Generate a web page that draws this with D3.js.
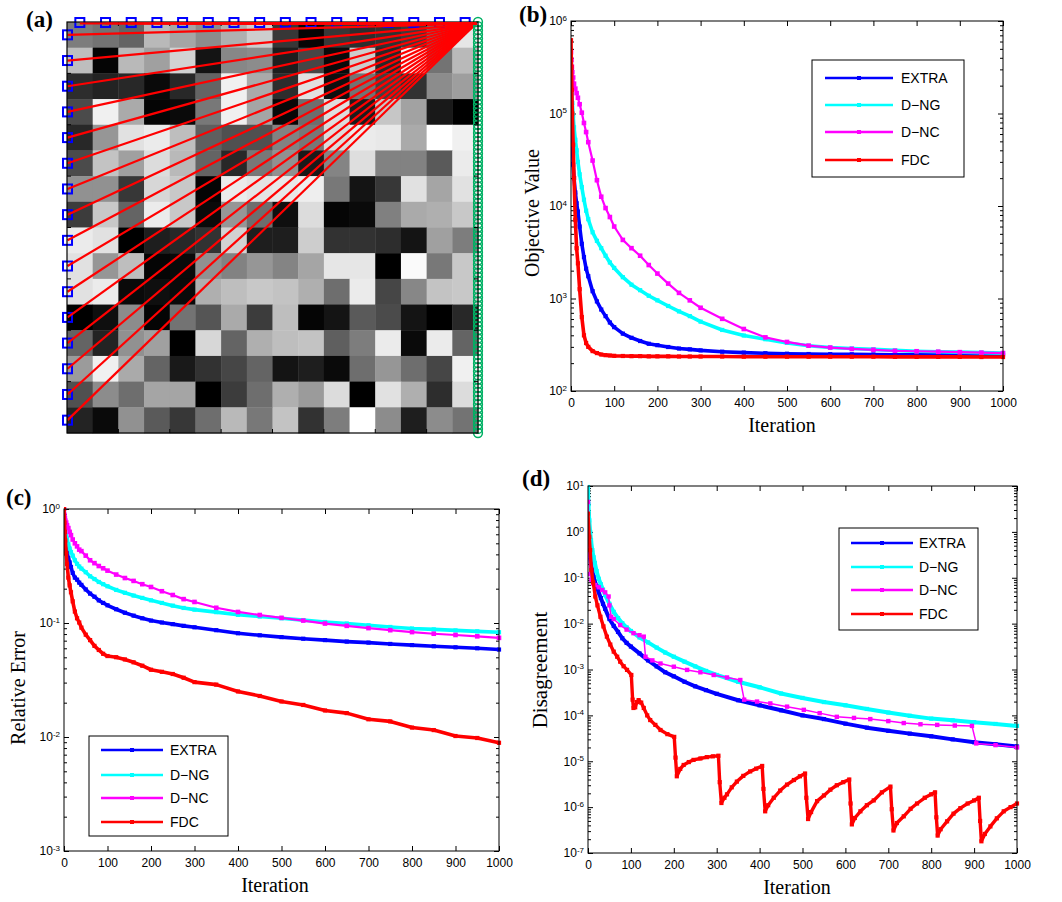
<!DOCTYPE html>
<html>
<head>
<meta charset="utf-8">
<script src="https://cdn.jsdelivr.net/npm/d3@7/dist/d3.min.js"></script>
<style>
  body { margin: 0; background: #fff; }
  svg { display: block; }
</style>
</head>
<body>
<div id="fig"></div>
<script>
// ---- data ----
var seriesNames = ['EXTRA', 'D\u2212NG', 'D\u2212NC', 'FDC'];
var seriesColors = ['#0000ff', '#00ffff', '#ff00ff', '#ff0000'];

// (a) 16x16 gray image (0 = black, 255 = white)
var gridGray = [
  [125,115,100,185,165,140,175,205, 55,  5, 55, 45, 50, 60,110,230],
  [190,  5,185,160,210, 20,135,140, 30, 70, 10,205, 40,245,115,185],
  [ 45, 35, 40, 10, 40,100,240,170, 45,225, 15,115, 65, 50,140,158],
  [ 75,240,170,  5, 10,120,240,165,  8,110,222, 28,198,162, 25,  0],
  [ 40,150,225,235,190, 95, 80, 80,130,120,220,235,232,170,255,240],
  [ 75,195,160,220,185,100, 40,120,145, 25,132,222,130,130, 90,235],
  [145,145, 55,215,200,  5,235,228,232,238,120, 20, 55,225,165,225],
  [ 60,200,100,235,200, 10,150,110, 15,220,  5, 10,128,170,175,200],
  [235,225,  0, 30, 40, 50,210, 30, 30,205, 50, 50, 45, 20,160,125],
  [225,150,190,  5, 10,145,130,150,132,165,230,230,  0,250,120,200],
  [225,235, 10, 15, 10,175,190,200,195,175,110,235, 70,135,195,200],
  [  0, 15,140,  5,115, 85,170, 60,190,  5, 20, 90, 75, 20,  0, 40],
  [100, 35,145,160,  0,215,100,175,190,195, 95,125,235, 10,235,100],
  [155,240,170,100, 25, 50, 70,100, 20, 30, 10,110,150,110, 70,240],
  [ 80,140,110,165,165,  0, 60,110,175,155,220,  0,225,175, 45,220],
  [ 35, 10,145, 90, 55,110,185,120,195, 50,125,255,140, 30,140,115]
];
var apexCell = [15.93, 0.06];   // col,row where all red links meet

// iterations shared by the smooth curves
var iters = [0,1,2,3,5,7,10,13,16,20,25,30,35,40,50,60,70,80,90,100,
             120,140,160,180,200,225,250,275,300,350,400,450,500,550,
             600,650,700,750,800,850,900,950,1000];

// (b) objective value
var objExtra = [2.45e5,1.26e5,7.9e4,5.0e4,2.8e4,2.0e4,1.4e4,1.07e4,8.7e3,6.0e3,3.9e3,2.8e3,2.1e3,1.74e3,1.2e3,930,760,645,550,490,
                417,376,347,324,313,299,288,282,275,266,260,256,253,251,
                250,249,248,247,246,246,245,245,245];
var objDng = [3.5e5,2.2e5,1.66e5,1.3e5,9.5e4,7.1e4,5.2e4,4.0e4,3.0e4,2.2e4,1.6e4,1.17e4,8.9e3,7.2e3,5.2e3,4.2e3,3.5e3,2.9e3,2.45e3,2.14e3,
              1.7e3,1.41e3,1.23e3,1.07e3,955,830,725,645,562,457,398,363,331,309,
              295,288,282,275,269,266,263,260,257];
var objDnc = [4.6e5,3.8e5,3.2e5,2.8e5,2.45e5,2.1e5,1.86e5,1.66e5,1.48e5,1.26e5,1.02e5,7.9e4,6.3e4,4.9e4,3.1e4,1.9e4,1.26e4,9.5e3,7.6e3,6.0e3,
              4.3e3,3.5e3,2.9e3,2.3e3,1.86e3,1.45e3,1.15e3,955,794,603,468,380,339,309,
              295,285,279,272,269,266,263,260,257];
var objFdc = [6.2e5,3.2e5,1.8e5,1.0e5,4.6e4,2.0e4,7.1e3,3.5e3,2.4e3,1.26e3,630,400,330,300,270,257,248,244,242,240,
              239,238,238,237,237,237,236,236,236,236,235,235,235,235,
              235,235,235,234,234,234,234,233,233];

// (c) relative error
var errExtra = [0.79,0.63,0.55,0.50,0.45,0.42,0.37,0.34,0.31,0.275,0.25,0.24,0.226,0.216,0.197,0.181,0.17,0.158,0.15,0.143,
                0.132,0.123,0.116,0.110,0.105,0.101,0.0977,0.0944,0.0917,0.0865,0.0813,0.078,0.0752,0.0728,
                0.0708,0.0687,0.0673,0.0655,0.064,0.0625,0.0612,0.060,0.0585];
var errDng = [0.93,0.79,0.71,0.65,0.59,0.55,0.49,0.45,0.42,0.39,0.355,0.33,0.313,0.30,0.279,0.257,0.243,0.229,0.219,0.21,
              0.195,0.184,0.174,0.166,0.158,0.15,0.142,0.1355,0.131,0.1245,0.118,0.114,0.110,0.106,
              0.102,0.0989,0.0955,0.0923,0.0895,0.0879,0.0861,0.0845,0.083];
var errDnc = [1.0,0.89,0.83,0.79,0.76,0.72,0.68,0.63,0.59,0.54,0.50,0.47,0.44,0.427,0.39,0.355,0.335,0.316,0.302,0.288,
              0.266,0.248,0.234,0.219,0.207,0.19,0.176,0.162,0.153,0.136,0.125,0.1175,0.111,0.105,
              0.0989,0.0944,0.0902,0.0865,0.0832,0.0805,0.0785,0.0764,0.0741];
var errFdc = [1.0,0.76,0.63,0.53,0.41,0.33,0.25,0.214,0.186,0.155,0.126,0.11,0.101,0.091,0.079,0.0708,0.063,0.058,0.0537,0.0513,
              0.0501,0.0479,0.0452,0.0422,0.0389,0.0373,0.0357,0.0331,0.0303,0.0288,0.0251,0.0229,0.0205,0.0191,
              0.0171,0.0162,0.0143,0.0137,0.0121,0.0115,0.0102,0.0098,0.0089];

// (d) disagreement
var disExtra = [2.2,1.26,0.79,0.5,0.28,0.2,0.141,0.105,0.083,0.066,0.048,0.036,0.027,0.021,0.0126,0.0089,0.0066,0.0048,0.0038,0.00316,
                0.00224,0.00158,0.00117,8.7e-4,7.1e-4,5.4e-4,4.3e-4,3.55e-4,2.95e-4,2.14e-4,1.66e-4,1.29e-4,1.0e-4,8.3e-5,
                6.6e-5,5.4e-5,4.6e-5,4.0e-5,3.5e-5,3.0e-5,2.6e-5,2.35e-5,2.1e-5];
var disDng = [9.5,4.0,2.5,1.78,1.0,0.66,0.4,0.28,0.21,0.14,0.095,0.072,0.055,0.042,0.027,0.018,0.0132,0.0102,0.0083,0.0069,
              0.005,0.0039,0.003,0.00234,0.0019,0.00148,0.00117,9.3e-4,7.6e-4,5.4e-4,4.1e-4,3.0e-4,2.4e-4,1.95e-4,
              1.66e-4,1.38e-4,1.15e-4,9.8e-5,8.5e-5,7.8e-5,7.1e-5,6.5e-5,5.9e-5];
var disDncIter = [0,2,5,8,12,17,25,33,40,48,50,54,60,75,90,106,120,130,134,150,169,200,231,262,293,324,355,
                  364,394,425,464,503,540,580,620,658,700,736,775,814,855,895,905,950,1000];
var disDnc = [4.5,0.3,0.12,0.09,0.075,0.069,0.062,0.054,0.048,0.039,0.025,0.0141,0.0126,0.0093,0.0074,0.0062,0.0056,0.0052,
              0.0019,0.00158,0.00135,0.00115,9.8e-4,8.7e-4,7.6e-4,6.7e-4,5.9e-4,
              2.2e-4,2.0e-4,1.82e-4,1.55e-4,1.32e-4,1.12e-4,9.3e-5,8.8e-5,8.3e-5,7.5e-5,6.8e-5,6.4e-5,6.2e-5,6.0e-5,5.9e-5,
              2.45e-5,2.25e-5,2.0e-5];
var disFdcIter = [0,3,5,8,12,17,22,29,36,44,52,60,68,75,83,91,101,104,106,110,114,118,124,130,138,145,157,169,185,201,
                  204,207,215,223,235,246,262,277,291,304,
                  307,311,318,324,335,347,362,378,392,406,
                  409,413,420,433,448,464,480,494,506,
                  509,513,520,534,550,565,580,595,609,
                  612,615,622,635,650,666,685,705,
                  708,712,720,736,752,767,785,800,809,
                  812,815,822,837,852,868,885,900,911,
                  914,917,925,938,953,969,985,1000];
var disFdc = [2.5,0.78,0.4,0.148,0.08,0.039,0.025,0.0141,0.0087,0.0052,0.0035,0.00245,0.0019,0.00148,0.00118,9.8e-4,7.6e-4,
              2.2e-4,1.45e-4,1.5e-4,1.95e-4,2.15e-4,1.9e-4,1.45e-4,1.0e-4,7.9e-5,6.2e-5,4.8e-5,3.9e-5,3.4e-5,
              1.2e-5,4.7e-6,6.8e-6,8.3e-6,9.6e-6,1.07e-5,1.15e-5,1.23e-5,1.28e-5,1.32e-5,
              3.5e-6,1.23e-6,1.6e-6,1.9e-6,2.7e-6,3.6e-6,4.8e-6,6.0e-6,6.9e-6,7.9e-6,
              2.5e-6,8.1e-7,1.1e-6,1.6e-6,2.3e-6,3.1e-6,3.9e-6,4.7e-6,5.4e-6,
              1.6e-6,5.5e-7,7.8e-7,1.35e-6,1.8e-6,2.4e-6,3.0e-6,3.5e-6,4.0e-6,
              1.2e-6,4.2e-7,5.8e-7,8.1e-7,1.1e-6,1.4e-6,2.1e-6,2.8e-6,
              9e-7,3.1e-7,4.5e-7,6.3e-7,9.2e-7,1.2e-6,1.6e-6,1.9e-6,2.1e-6,
              6e-7,2.4e-7,3.3e-7,4.9e-7,7.2e-7,9.5e-7,1.2e-6,1.4e-6,1.6e-6,
              5e-7,1.8e-7,2.6e-7,3.8e-7,5.7e-7,8.1e-7,1.0e-6,1.2e-6];

var xTicks = [0,100,200,300,400,500,600,700,800,900,1000];

// ---- drawing ----
var width = 1062, height = 902;
var svg = d3.select('#fig').append('svg')
  .attr('width', width).attr('height', height)
  .style('font-family', '"Liberation Sans", Arial, sans-serif');

var serif = '"Liberation Serif", "Times New Roman", serif';

function panelLabel(txt, x, y) {
  svg.append('text').attr('x', x).attr('y', y)
    .style('font-family', serif).style('font-weight', 'bold')
    .style('font-size', '23px').text(txt);
}

// (a) image with sensing links
function drawImagePanel() {
  var gx = d3.scaleLinear().domain([0, 16]).range([67, 478]);
  var gy = d3.scaleLinear().domain([0, 16]).range([22, 433]);
  var g = svg.append('g');

  var cells = [];
  gridGray.forEach(function(row, r) {
    row.forEach(function(v, c) { cells.push({r: r, c: c, v: v}); });
  });
  g.selectAll('.cell').data(cells).enter().append('rect')
    .attr('x', function(d) { return gx(d.c); })
    .attr('y', function(d) { return gy(d.r); })
    .attr('width', gx(1) - gx(0) + 0.4)
    .attr('height', gy(1) - gy(0) + 0.4)
    .style('fill', function(d) { return d3.rgb(d.v, d.v, d.v); });

  var topNodes = d3.range(16).map(function(k) { return [k + 0.5, 0.02]; });
  var leftNodes = d3.range(16).map(function(k) { return [0.02, k + 0.5]; });
  var nodes = topNodes.concat(leftNodes);

  // blue squares
  g.selectAll('.node').data(nodes).enter().append('rect')
    .attr('x', function(d) { return gx(d[0]) - 4.5; })
    .attr('y', function(d) { return gy(d[1]) - 4.5; })
    .attr('width', 9).attr('height', 9)
    .style('fill', 'none').style('stroke', '#0000ff').style('stroke-width', 2);

  // red links to the apex
  g.selectAll('.link').data(leftNodes).enter().append('line')
    .attr('x1', function(d) { return gx(d[0]); })
    .attr('y1', function(d) { return gy(d[1]); })
    .attr('x2', gx(apexCell[0])).attr('y2', gy(apexCell[1]))
    .style('stroke', '#ff0000').style('stroke-width', 2.2);

  // green receivers down the right edge
  var greenRows = d3.range(0, 16.001, 0.16);
  g.selectAll('.rx').data(greenRows).enter().append('circle')
    .attr('cx', gx(16)).attr('cy', function(d) { return gy(d); })
    .attr('r', 4.4)
    .style('fill', 'none').style('stroke', '#00b064').style('stroke-width', 1.5);

  // frame + ticks
  g.append('rect').attr('x', gx(0)).attr('y', gy(0))
    .attr('width', gx(16) - gx(0)).attr('height', gy(16) - gy(0))
    .style('fill', 'none').style('stroke', '#000').style('stroke-width', 1.2);
  var tk = [2, 4, 6, 8, 10, 12, 14];
  tk.forEach(function(t) {
    g.append('line').attr('x1', gx(0)).attr('x2', gx(0) + 4).attr('y1', gy(t)).attr('y2', gy(t)).style('stroke', '#000');
    g.append('line').attr('x1', gx(16)).attr('x2', gx(16) - 4).attr('y1', gy(t)).attr('y2', gy(t)).style('stroke', '#000');
    g.append('line').attr('y1', gy(16)).attr('y2', gy(16) - 4).attr('x1', gx(t)).attr('x2', gx(t)).style('stroke', '#000');
    g.append('line').attr('y1', gy(0)).attr('y2', gy(0) + 4).attr('x1', gx(t)).attr('x2', gx(t)).style('stroke', '#000');
  });
  // red band along the top border
  g.selectAll('.toplink').data(topNodes).enter().append('line')
    .attr('x1', function(d) { return gx(d[0]); })
    .attr('y1', function(d) { return gy(d[1]) + 1; })
    .attr('x2', gx(apexCell[0])).attr('y2', gy(apexCell[1]))
    .style('stroke', '#ff0000').style('stroke-width', 1.8);
}

function supLabels(axisG) {
  axisG.selectAll('.tick text').each(function(d) {
    var t = d3.select(this);
    var e = Math.round(Math.log10(d));
    t.text('');
    t.append('tspan').text('10');
    t.append('tspan').attr('dy', '-0.55em').style('font-size', '8px').text(e);
  });
}

function drawLogPanel(cfg) {
  var x = d3.scaleLinear().domain([0, 1000]).range([cfg.left, cfg.right]);
  var y = d3.scaleLog().domain(cfg.yDomain).range([cfg.bottom, cfg.top]);
  var g = svg.append('g');

  svg.append('clipPath').attr('id', 'clip-' + cfg.id)
    .append('rect').attr('x', cfg.left).attr('y', cfg.top - 2)
    .attr('width', cfg.right - cfg.left + 3).attr('height', cfg.bottom - cfg.top + 2);

  var decades = d3.range(Math.round(Math.log10(cfg.yDomain[0])), Math.round(Math.log10(cfg.yDomain[1])) + 1)
    .map(function(e) { return Math.pow(10, e); });
  var minors = [];
  decades.slice(0, -1).forEach(function(dv) {
    for (var m = 2; m < 10; m++) minors.push(dv * m);
  });

  function tickAxis(axis, tx, ty) {
    var a = g.append('g').attr('transform', 'translate(' + tx + ',' + ty + ')').call(axis);
    a.select('.domain').remove();
    a.selectAll('line').style('stroke', '#000');
    return a;
  }

  // x ticks bottom/top
  var xb = tickAxis(d3.axisBottom(x).tickValues(xTicks).tickSizeInner(-5).tickSizeOuter(0).tickPadding(7)
    .tickFormat(d3.format('d')), 0, cfg.bottom);
  xb.selectAll('text').style('font-size', '12px').style('fill', '#000')
    .style('font-family', '"Liberation Sans", Arial, sans-serif');
  tickAxis(d3.axisTop(x).tickValues(xTicks).tickSizeInner(-5).tickSizeOuter(0).tickFormat(''), 0, cfg.top);

  // y ticks left/right with minor log ticks
  var yl = tickAxis(d3.axisLeft(y).tickValues(decades).tickSizeInner(-5).tickSizeOuter(0).tickPadding(4), cfg.left, 0);
  yl.selectAll('text').style('font-size', '12px').style('fill', '#000')
    .style('font-family', '"Liberation Sans", Arial, sans-serif');
  supLabels(yl);
  tickAxis(d3.axisLeft(y).tickValues(minors).tickSizeInner(-3).tickSizeOuter(0).tickFormat(''), cfg.left, 0);
  tickAxis(d3.axisRight(y).tickValues(decades).tickSizeInner(-5).tickSizeOuter(0).tickFormat(''), cfg.right, 0);
  tickAxis(d3.axisRight(y).tickValues(minors).tickSizeInner(-3).tickSizeOuter(0).tickFormat(''), cfg.right, 0);

  // curves
  var line = d3.line().x(function(d) { return x(d[0]); }).y(function(d) { return y(d[1]); });
  var plot = g.append('g').attr('clip-path', 'url(#clip-' + cfg.id + ')');
  cfg.series.forEach(function(s, i) {
    var pts = s.iter.map(function(it, k) { return [it, s.vals[k]]; });
    var col = seriesColors[i];
    var ms = s.m || 4.2;
    plot.append('path').datum(pts).attr('d', line)
      .style('fill', 'none').style('stroke', col)
      .style('stroke-width', s.w || 3.6).style('stroke-linejoin', 'round');
    plot.selectAll('.m' + i).data(pts).enter().append('rect')
      .attr('x', function(d) { return x(d[0]) - ms / 2; })
      .attr('y', function(d) { return y(d[1]) - ms / 2; })
      .attr('width', ms).attr('height', ms)
      .style('fill', col);
  });

  // frame
  g.append('rect').attr('x', cfg.left).attr('y', cfg.top)
    .attr('width', cfg.right - cfg.left).attr('height', cfg.bottom - cfg.top)
    .style('fill', 'none').style('stroke', '#000').style('stroke-width', 1);

  // legend
  var L = cfg.legend;
  var lg = g.append('g');
  lg.append('rect').attr('x', L.x).attr('y', L.y).attr('width', L.w).attr('height', L.h)
    .style('fill', '#fff').style('stroke', '#000').style('stroke-width', 1);
  seriesNames.forEach(function(name, i) {
    var yy = L.rows[i];
    lg.append('line').attr('x1', L.lx0).attr('x2', L.lx1).attr('y1', yy).attr('y2', yy)
      .style('stroke', seriesColors[i]).style('stroke-width', 2.4);
    lg.append('rect').attr('x', (L.lx0 + L.lx1) / 2 - 2).attr('y', yy - 2)
      .attr('width', 4).attr('height', 4).style('fill', seriesColors[i]);
    lg.append('text').attr('x', L.tx).attr('y', yy).attr('dy', '0.36em')
      .style('font-size', '14px').text(name);
  });

  // axis titles
  g.append('text').attr('x', cfg.xlab[0]).attr('y', cfg.xlab[1])
    .attr('text-anchor', 'middle').style('font-family', serif).style('font-size', '20px')
    .text('Iteration');
  g.append('text').attr('transform', 'translate(' + cfg.ylab[0] + ',' + cfg.ylab[1] + ') rotate(-90)')
    .attr('text-anchor', 'middle').style('font-family', serif).style('font-size', cfg.ylabSize || '20px')
    .text(cfg.ylabText);
}

drawImagePanel();

drawLogPanel({
  id: 'b', left: 571, right: 1003, top: 21, bottom: 391, yDomain: [1e2, 1e6],
  series: [
    {iter: iters, vals: objExtra},
    {iter: iters, vals: objDng},
    {iter: iters, vals: objDnc, w: 2.2, m: 4.6},
    {iter: iters, vals: objFdc}
  ],
  legend: {x: 812, y: 60, w: 152, h: 117, rows: [78, 105, 132, 160], lx0: 825, lx1: 893, tx: 901},
  xlab: [782, 432], ylab: [539, 213], ylabText: 'Objective Value'
});

drawLogPanel({
  id: 'c', left: 64, right: 499, top: 509, bottom: 851, yDomain: [1e-3, 1],
  series: [
    {iter: iters, vals: errExtra},
    {iter: iters, vals: errDng},
    {iter: iters, vals: errDnc, w: 2.2, m: 4.6},
    {iter: iters, vals: errFdc}
  ],
  legend: {x: 89, y: 736, w: 139, h: 100, rows: [750, 775, 798, 822], lx0: 101, lx1: 163, tx: 170},
  xlab: [275, 892], ylab: [25, 688], ylabText: 'Relative Error'
});

drawLogPanel({
  id: 'd', left: 588, right: 1017, top: 486, bottom: 853, yDomain: [1e-7, 10],
  series: [
    {iter: iters, vals: disExtra, w: 4},
    {iter: iters, vals: disDng, w: 4},
    {iter: disDncIter, vals: disDnc, w: 1.5, m: 4.4},
    {iter: disFdcIter, vals: disFdc, w: 3.4}
  ],
  legend: {x: 839, y: 528, w: 139, h: 102, rows: [543, 567, 590, 614], lx0: 851, lx1: 913, tx: 919},
  xlab: [797, 894], ylab: [547, 670], ylabText: 'Disagreement', ylabSize: '21px'
});

panelLabel('(a)', 26, 27);
panelLabel('(b)', 519, 22);
panelLabel('(c)', 6, 505);
panelLabel('(d)', 522, 486);
</script>
</body>
</html>
